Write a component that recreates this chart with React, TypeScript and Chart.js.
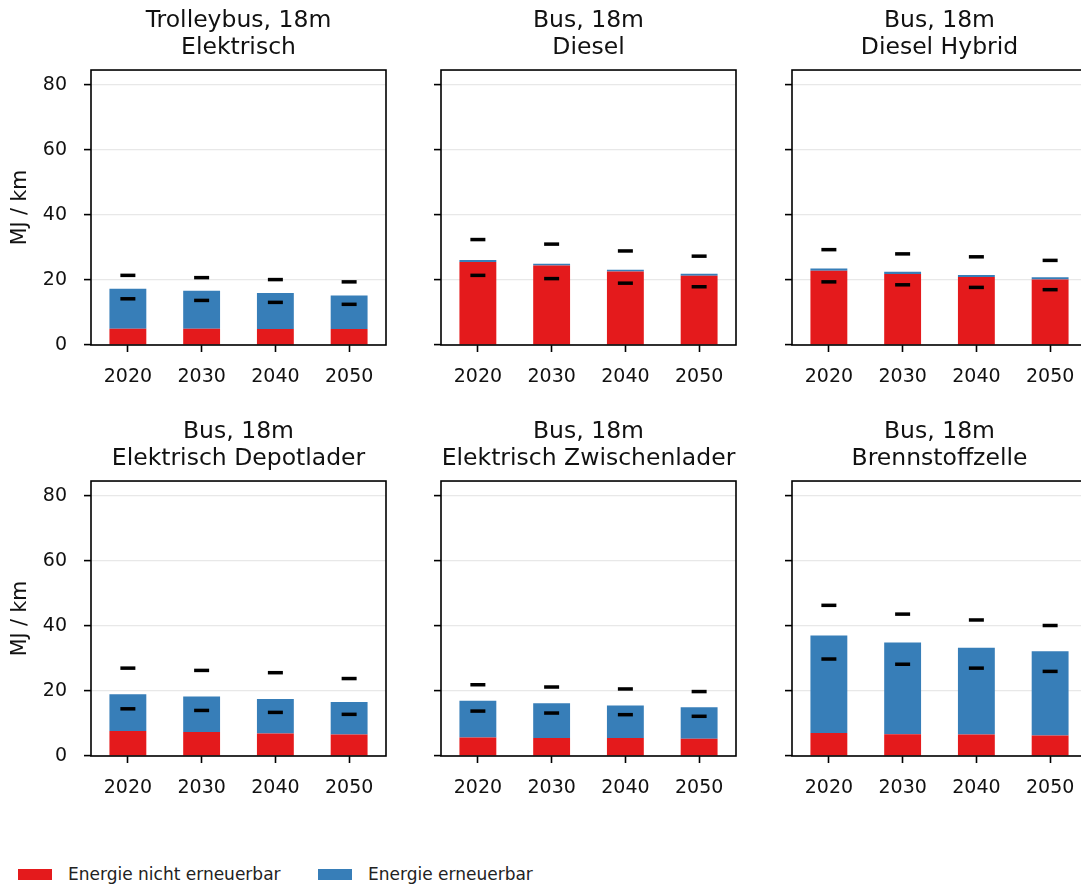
import React, { useEffect, useRef } from "react";
import { Chart, registerables } from "chart.js";

Chart.register(...registerables);

// ---- data ----
const YEARS = ["2020", "2030", "2040", "2050"];
const Y_TICKS = [0, 20, 40, 60, 80];
const Y_MAX = 84.5;

const PANEL_TITLES = [
  ["Trolleybus, 18m", "Elektrisch"],
  ["Bus, 18m", "Diesel"],
  ["Bus, 18m", "Diesel Hybrid"],
  ["Bus, 18m", "Elektrisch Depotlader"],
  ["Bus, 18m", "Elektrisch Zwischenlader"],
  ["Bus, 18m", "Brennstoffzelle"],
];

const SERIES_NAMES = ["Energie nicht erneuerbar", "Energie erneuerbar"];
const SERIES_COLORS = ["#e41a1c", "#377eb8"];

// non-renewable energy (red)
const NON_RENEWABLE = [
  [5.0, 5.0, 4.9, 4.9],
  [25.5, 24.4, 22.6, 21.3],
  [22.8, 21.8, 20.9, 20.1],
  [7.7, 7.4, 6.9, 6.6],
  [5.7, 5.5, 5.5, 5.3],
  [7.1, 6.7, 6.6, 6.3],
];

// renewable energy (blue), stacked on top
const RENEWABLE = [
  [12.3, 11.7, 11.1, 10.3],
  [0.6, 0.6, 0.5, 0.6],
  [0.7, 0.7, 0.6, 0.7],
  [11.3, 10.9, 10.6, 10.0],
  [11.3, 10.7, 10.0, 9.7],
  [29.9, 28.2, 26.7, 25.9],
];

// black dashes: upper and lower range
const UPPER = [
  [21.4, 20.7, 20.1, 19.4],
  [32.4, 31.0, 28.9, 27.3],
  [29.3, 28.0, 27.1, 26.0],
  [27.0, 26.3, 25.6, 23.8],
  [21.9, 21.2, 20.6, 19.8],
  [46.3, 43.6, 41.8, 40.1],
];
const LOWER = [
  [14.2, 13.7, 13.1, 12.5],
  [21.4, 20.4, 19.0, 17.9],
  [19.4, 18.5, 17.7, 17.0],
  [14.5, 14.0, 13.4, 12.8],
  [13.8, 13.2, 12.7, 12.2],
  [29.8, 28.2, 27.0, 26.0],
];

// ---- layout ----
const FONT = "'DejaVu Sans', sans-serif";
const COL_LEFT = [91, 441, 792];
const ROW_TOP = [70, 481];
const PLOT_W = 295;
const PLOT_H = 275;
const SIDE = 91;
const TOP = 70;
const BOTTOM = 60;

const framePlugin = {
  id: "frame",
  afterDatasetsDraw(chart: any) {
    const { ctx, chartArea: a } = chart;
    ctx.save();
    ctx.strokeStyle = "#000";
    ctx.lineWidth = 1.6;
    ctx.strokeRect(a.left, a.top, a.right - a.left, a.bottom - a.top);
    ctx.restore();
  },
};

const Panel: React.FC<{ idx: number }> = ({ idx }) => {
  const canvasRef = useRef<HTMLCanvasElement>(null);
  const chartInstance = useRef<Chart | null>(null);
  const col = idx % 3;
  const row = Math.floor(idx / 3);
  const showYLabels = col === 0;

  useEffect(() => {
    if (!canvasRef.current) return;
    if (chartInstance.current) chartInstance.current.destroy();

    const marker = (data: number[], stack: string) => ({
      type: "line" as const,
      data,
      stack,
      order: 0,
      showLine: false,
      pointStyle: "line" as const,
      pointRadius: 7.5,
      pointHoverRadius: 7.5,
      pointBorderWidth: 3.5,
      pointHoverBorderWidth: 3.5,
      pointBorderColor: "#000",
      pointBackgroundColor: "#000",
      borderColor: "#000",
    });

    chartInstance.current = new Chart(canvasRef.current, {
      type: "bar",
      data: {
        labels: YEARS,
        datasets: [
          {
            label: SERIES_NAMES[0],
            data: NON_RENEWABLE[idx],
            backgroundColor: SERIES_COLORS[0],
            stack: "energy",
            order: 1,
            barPercentage: 0.5,
            categoryPercentage: 1,
          },
          {
            label: SERIES_NAMES[1],
            data: RENEWABLE[idx],
            backgroundColor: SERIES_COLORS[1],
            stack: "energy",
            order: 1,
            barPercentage: 0.5,
            categoryPercentage: 1,
          },
          marker(UPPER[idx], "upper") as any,
          marker(LOWER[idx], "lower") as any,
        ],
      },
      options: {
        responsive: false,
        animation: false,
        events: [],
        layout: { padding: 0 },
        plugins: {
          legend: { display: false },
          tooltip: { enabled: false },
          title: {
            display: true,
            text: PANEL_TITLES[idx],
            color: "#111",
            font: { family: FONT, size: 23.5, weight: "normal", lineHeight: 1.16 },
            padding: { top: 7.1, bottom: 8.4 },
          },
        },
        scales: {
          x: {
            stacked: true,
            offset: true,
            border: { display: false },
            grid: {
              offset: false,
              drawOnChartArea: false,
              drawTicks: true,
              tickLength: 7,
              tickColor: "#000",
              tickWidth: 1.6,
            },
            ticks: {
              color: "#111",
              font: { family: FONT, size: 19 },
              padding: 14,
              maxRotation: 0,
            },
            afterFit: (scale: any) => {
              scale.height = BOTTOM;
            },
          },
          y: {
            stacked: true,
            min: 0,
            max: Y_MAX,
            border: { display: false },
            grid: {
              color: "#e8e8e8",
              lineWidth: 1.2,
              drawTicks: true,
              tickLength: 7,
              tickColor: "#000",
              tickWidth: 1.6,
            },
            ticks: {
              color: "#111",
              font: { family: FONT, size: 19 },
              padding: 17,
              callback: (v: any) => (showYLabels ? String(v) : ""),
            },
            afterBuildTicks: (scale: any) => {
              scale.ticks = Y_TICKS.map((v) => ({ value: v }));
            },
            title: {
              display: showYLabels,
              text: "MJ / km",
              color: "#111",
              font: { family: FONT, size: 20.5 },
              padding: { top: 8, bottom: 0 },
            },
            afterFit: (scale: any) => {
              scale.width = SIDE;
            },
          },
          // empty right-hand axis that mirrors the left one, so the title centres on the plot
          yRight: {
            position: "right",
            min: 0,
            max: Y_MAX,
            border: { display: false },
            grid: { display: false },
            ticks: { display: false },
            afterFit: (scale: any) => {
              scale.width = SIDE;
            },
          },
        },
      },
      plugins: [framePlugin],
    } as any);

    return () => {
      if (chartInstance.current) {
        chartInstance.current.destroy();
        chartInstance.current = null;
      }
    };
  }, [idx]);

  return (
    <canvas
      ref={canvasRef}
      width={PLOT_W + 2 * SIDE}
      height={TOP + PLOT_H + BOTTOM}
      style={{
        position: "absolute",
        left: COL_LEFT[col] - SIDE,
        top: ROW_TOP[row] - TOP,
        width: PLOT_W + 2 * SIDE,
        height: TOP + PLOT_H + BOTTOM,
      }}
    />
  );
};

const LEGEND_X = [18, 318];

export default function App() {
  return (
    <div
      style={{
        position: "absolute",
        left: 0,
        top: 0,
        width: 1081,
        height: 888,
        overflow: "hidden",
        background: "#fff",
        fontFamily: FONT,
      }}
    >
      {PANEL_TITLES.map((_, i) => (
        <Panel key={i} idx={i} />
      ))}
      {SERIES_NAMES.map((name, i) => (
        <div
          key={name}
          style={{
            position: "absolute",
            left: LEGEND_X[i],
            top: 862,
            height: 24,
            display: "flex",
            alignItems: "center",
            fontSize: 17,
            color: "#222",
            whiteSpace: "nowrap",
          }}
        >
          <span
            style={{
              display: "inline-block",
              width: 34,
              height: 11,
              background: SERIES_COLORS[i],
              marginRight: 16,
            }}
          />
          {name}
        </div>
      ))}
    </div>
  );
}
